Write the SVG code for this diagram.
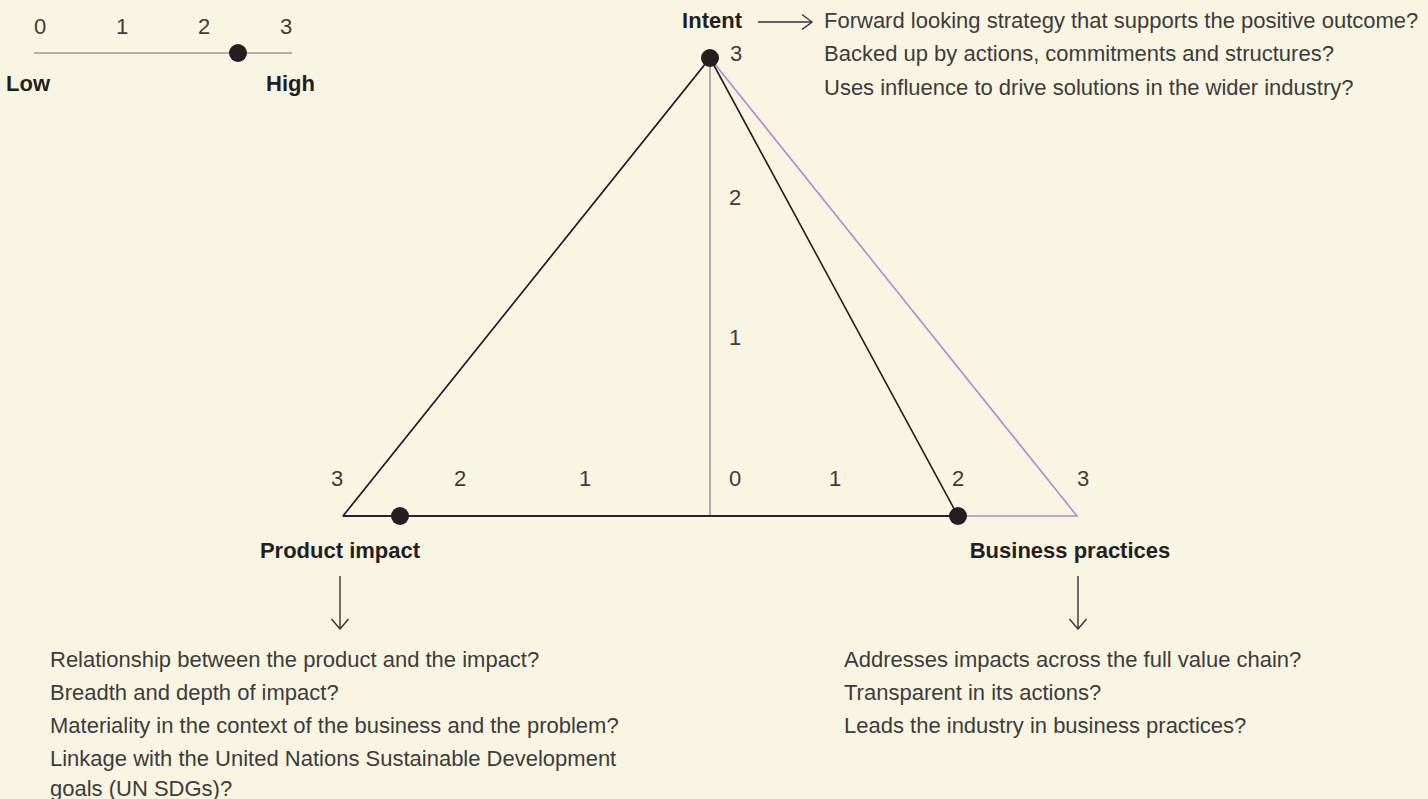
<svg xmlns="http://www.w3.org/2000/svg" width="1428" height="799" viewBox="0 0 1428 799">
<style>
  text { font-family: "Liberation Sans", Arial, sans-serif; font-size: 22px; fill: #3d3b3b; }
  .b { font-weight: bold; fill: #231f20; }
  .num { text-anchor: middle; }
  .dot { fill: #231f20; }
  .blk { stroke: #231f20; stroke-width: 1.6; fill: none; stroke-linejoin: miter; }
  .pur { stroke: #ab8dd2; stroke-width: 1.6; fill: none; }
  .gry { stroke: #9a9a9a; stroke-width: 1.6; fill: none; }
  .arr { stroke: #333333; stroke-width: 1.4; fill: none; }
</style>
<defs>
  <marker id="chev" viewBox="0 0 12 20" refX="11" refY="10" markerWidth="12" markerHeight="20" markerUnits="userSpaceOnUse" orient="auto">
    <path d="M1,1.5 L11,10 L1,18.5" fill="none" stroke="#333333" stroke-width="1.4"/>
  </marker>
  <marker id="chevh" viewBox="0 0 12 18" refX="11" refY="9" markerWidth="12" markerHeight="18" markerUnits="userSpaceOnUse" orient="auto">
    <path d="M1,1.5 L11,9 L1,16.5" fill="none" stroke="#333333" stroke-width="1.4"/>
  </marker>
</defs>
<rect width="1428" height="799" fill="#f9f5e3"/>

<g id="scale-legend">
  <line class="gry" x1="34" y1="53" x2="292" y2="53"/>
  <text class="num" x="40" y="34">0</text>
  <text class="num" x="122" y="34">1</text>
  <text class="num" x="204" y="34">2</text>
  <text class="num" x="286" y="34">3</text>
  <circle class="dot" cx="238" cy="53" r="9"/>
  <text class="b" x="6" y="91">Low</text>
  <text class="b" x="315" y="91" text-anchor="end">High</text>
</g>

<g id="connectors">
  <path class="pur" d="M710,58 L343,516 L1077,516 Z"/>
  <line class="gry" x1="710" y1="58" x2="710" y2="516"/>
  <path class="blk" d="M343,516 L710,58 L958,516"/>
  <line stroke="#2a2430" stroke-width="2" x1="343" y1="516" x2="958" y2="516"/>
  <line class="arr" x1="758" y1="22" x2="812" y2="22" marker-end="url(#chevh)"/>
  <line class="arr" x1="340" y1="576" x2="340" y2="629" marker-end="url(#chev)"/>
  <line class="arr" x1="1078" y1="576" x2="1078" y2="629" marker-end="url(#chev)"/>
</g>

<g id="axis-labels">
  <text class="num" x="736" y="61">3</text>
  <text class="num" x="735" y="205">2</text>
  <text class="num" x="735" y="345">1</text>
  <text class="num" x="337" y="486">3</text>
  <text class="num" x="460" y="486">2</text>
  <text class="num" x="585" y="486">1</text>
  <text class="num" x="735" y="486">0</text>
  <text class="num" x="835" y="486">1</text>
  <text class="num" x="958" y="486">2</text>
  <text class="num" x="1083" y="486">3</text>
</g>

<g id="node-intent">
  <circle class="dot" cx="710" cy="58" r="9"/>
  <text class="b" x="742" y="28" text-anchor="end">Intent</text>
  <text x="824" y="28">Forward looking strategy that supports the positive outcome?</text>
  <text x="824" y="61">Backed up by actions, commitments and structures?</text>
  <text x="824" y="95">Uses influence to drive solutions in the wider industry?</text>
</g>

<g id="node-product">
  <circle class="dot" cx="400" cy="516" r="9"/>
  <text class="b" x="340" y="558" text-anchor="middle">Product impact</text>
  <text x="50" y="667">Relationship between the product and the impact?</text>
  <text x="50" y="700">Breadth and depth of impact?</text>
  <text x="50" y="733">Materiality in the context of the business and the problem?</text>
  <text x="50" y="766">Linkage with the United Nations Sustainable Development</text>
  <text x="50" y="796">goals (UN SDGs)?</text>
</g>

<g id="node-business">
  <circle class="dot" cx="958" cy="516" r="9"/>
  <text class="b" x="1070" y="558" text-anchor="middle">Business practices</text>
  <text x="844" y="667">Addresses impacts across the full value chain?</text>
  <text x="844" y="700">Transparent in its actions?</text>
  <text x="844" y="733">Leads the industry in business practices?</text>
</g>
</svg>
